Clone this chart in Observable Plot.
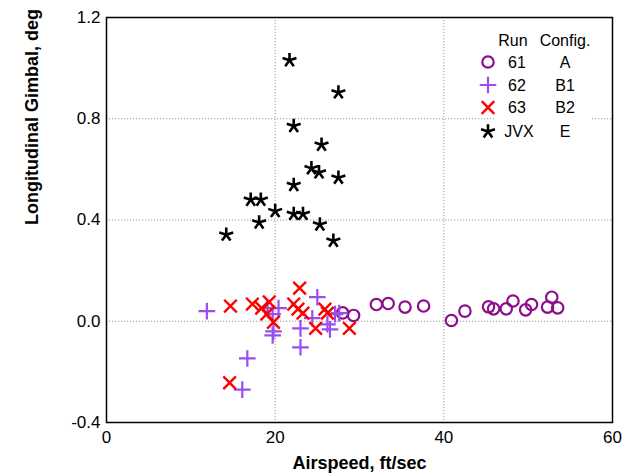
<!DOCTYPE html>
<html>
<head>
<meta charset="utf-8">
<script src="https://cdn.jsdelivr.net/npm/d3@7"></script>
<script src="https://cdn.jsdelivr.net/npm/@observablehq/plot@0.6"></script>
<style>
  body { margin: 0; background: #fff; }
  #wrap { position: relative; width: 623px; height: 476px; }
  #legend { position: absolute; left: 0; top: 0; }
</style>
</head>
<body>
<div id="wrap"></div>
<script>
// Run 61 (Config. A)
const run61X = [28.0, 29.3, 32.0, 33.4, 35.4, 37.6, 40.9, 42.5, 45.3, 45.9, 47.4, 48.2, 49.7, 50.4, 52.3, 52.8, 53.5];
const run61Y = [0.033, 0.023, 0.066, 0.070, 0.056, 0.060, 0.003, 0.040, 0.057, 0.049, 0.049, 0.080, 0.045, 0.066, 0.056, 0.095, 0.053];
// Run 62 (Config. B1)
const run62X = [11.9, 16.1, 16.7, 19.1, 20.4, 19.7, 19.8, 19.7, 23.0, 23.0, 25.0, 24.4, 26.2, 26.5, 27.1, 27.6];
const run62Y = [0.040, -0.270, -0.147, 0.052, 0.052, 0.028, -0.040, -0.056, -0.028, -0.103, 0.095, 0.012, -0.012, -0.032, 0.028, 0.032];
// Run 63 (Config. B2)
const run63X = [14.7, 17.3, 18.4, 19.3, 19.0, 19.8, 22.9, 22.2, 22.7, 23.3, 24.8, 25.9, 26.2, 28.8, 14.6];
const run63Y = [0.060, 0.068, 0.052, 0.076, 0.028, -0.004, 0.131, 0.068, 0.048, 0.032, -0.028, 0.048, 0.032, -0.028, -0.243];
// JVX (Config. E)
const jvxX = [21.7, 27.5, 22.2, 25.5, 24.3, 25.2, 27.5, 22.2, 17.1, 18.3, 20.0, 22.2, 23.3, 18.1, 25.3, 14.2, 26.9];
const jvxY = [1.031, 0.904, 0.771, 0.697, 0.604, 0.588, 0.567, 0.538, 0.480, 0.480, 0.435, 0.424, 0.424, 0.390, 0.382, 0.342, 0.318];

const xTicks = [0, 20, 40, 60];
const yTicks = [-0.4, 0.0, 0.4, 0.8, 1.2];
const xGrid = [20, 40];
const yGrid = [0.0, 0.4, 0.8];

const legendRuns = ["61", "62", "63", "JVX"];
const legendConfigs = ["A", "B1", "B2", "E"];
const xLabel = "Airspeed, ft/sec";
const yLabel = "Longitudinal Gimbal, deg";

const FONT = "'Liberation Sans', Arial, Helvetica, sans-serif";

const toPts = (xs, ys) => xs.map((x, i) => ({x, y: ys[i]}));
const d61 = toPts(run61X, run61Y);
const d62 = toPts(run62X, run62Y);
const d63 = toPts(run63X, run63Y);
const dJ = toPts(jvxX, jvxY);

const rad = size => Math.sqrt(size / Math.PI);
const symStar = {draw(ctx, size) {
  const r = rad(size);
  for (let i = 0; i < 5; i++) {
    const a = -Math.PI / 2 + i * 2 * Math.PI / 5;
    ctx.moveTo(0, 0);
    ctx.lineTo(r * Math.cos(a), r * Math.sin(a));
  }
}};
const symPlus = {draw(ctx, size) {
  const r = rad(size);
  ctx.moveTo(-r, 0); ctx.lineTo(r, 0);
  ctx.moveTo(0, -r); ctx.lineTo(0, r);
}};
const symTimes = {draw(ctx, size) {
  const r = rad(size);
  ctx.moveTo(-r, -r); ctx.lineTo(r, r);
  ctx.moveTo(-r, r); ctx.lineTo(r, -r);
}};

const C61 = "#8c0f8c", C62 = "#9b4df0", C63 = "#ff0000", CJ = "#000000";
const styles = [
  {sym: "circle", r: 5.7, stroke: C61, sw: 2.2},
  {sym: symPlus, r: 8.3, stroke: C62, sw: 2.2},
  {sym: symTimes, r: 6.3, stroke: C63, sw: 2.4},
  {sym: symStar, r: 7.3, stroke: CJ, sw: 2.6}
];

const W = 623, H = 476;
const mL = 106, mR = 11, mT = 17, mB = 54;

const chart = Plot.plot({
  width: W, height: H,
  marginLeft: mL, marginRight: mR, marginTop: mT, marginBottom: mB,
  style: {fontFamily: FONT, fontSize: "17px", color: "#000", background: "#fff"},
  x: {domain: [0, 60], ticks: xTicks, tickSize: 0, tickPadding: 8, label: null, tickFormat: d => String(d)},
  y: {domain: [-0.4, 1.2], ticks: yTicks, tickSize: 0, tickPadding: 6, label: null, tickFormat: d => d.toFixed(1)},
  marks: [
    Plot.ruleX(xGrid, {stroke: "#999", strokeWidth: 1, strokeDasharray: "1.2,1.8"}),
    Plot.ruleY(yGrid, {stroke: "#999", strokeWidth: 1, strokeDasharray: "1.2,1.8"}),
    Plot.dot(d61, {x: "x", y: "y", symbol: styles[0].sym, r: styles[0].r, stroke: styles[0].stroke, strokeWidth: styles[0].sw, fill: "none"}),
    Plot.dot(d62, {x: "x", y: "y", symbol: styles[1].sym, r: styles[1].r, stroke: styles[1].stroke, strokeWidth: styles[1].sw, fill: "none"}),
    Plot.dot(d63, {x: "x", y: "y", symbol: styles[2].sym, r: styles[2].r, stroke: styles[2].stroke, strokeWidth: styles[2].sw, fill: "none"}),
    Plot.dot(dJ, {x: "x", y: "y", symbol: styles[3].sym, r: styles[3].r, stroke: styles[3].stroke, strokeWidth: styles[3].sw, fill: "none"}),
    Plot.frame({stroke: "#000", strokeWidth: 1.5}),
    Plot.text([xLabel], {frameAnchor: "bottom", dy: 41, text: d => d, fontWeight: "bold", fontSize: 18, lineAnchor: "middle"}),
    Plot.text([yLabel], {frameAnchor: "left", dx: -74, dy: 5, rotate: -90, text: d => d, fontWeight: "bold", fontSize: 18, lineAnchor: "middle"})
  ]
});

const wrap = document.getElementById("wrap");
wrap.appendChild(chart);

// Legend overlay
const svg = d3.select(wrap).append("svg")
  .attr("id", "legend").attr("width", W).attr("height", H)
  .style("font-family", FONT).style("font-size", "16px");
svg.append("rect").attr("x", 494).attr("y", 28).attr("width", 97).attr("height", 114).attr("fill", "#fff");
const rowsY = [62, 85, 107.5, 131.5];
svg.append("text").attr("x", 513).attr("y", 40).attr("dy", "0.35em").attr("text-anchor", "middle").text("Run");
svg.append("text").attr("x", 565).attr("y", 40).attr("dy", "0.35em").attr("text-anchor", "middle").text("Config.");
legendRuns.forEach((run, i) => {
  const st = styles[i];
  const type = st.sym === "circle" ? d3.symbolCircle : st.sym;
  svg.append("path")
    .attr("transform", `translate(${488},${rowsY[i]})`)
    .attr("d", d3.symbol(type, Math.PI * st.r * st.r)())
    .attr("fill", "none").attr("stroke", st.stroke).attr("stroke-width", st.sw);
  svg.append("text").attr("x", i === 3 ? 519 : 517).attr("y", rowsY[i]).attr("dy", "0.35em").attr("text-anchor", "middle").text(run);
  svg.append("text").attr("x", 565).attr("y", rowsY[i]).attr("dy", "0.35em").attr("text-anchor", "middle").text(legendConfigs[i]);
});
</script>
</body>
</html>
